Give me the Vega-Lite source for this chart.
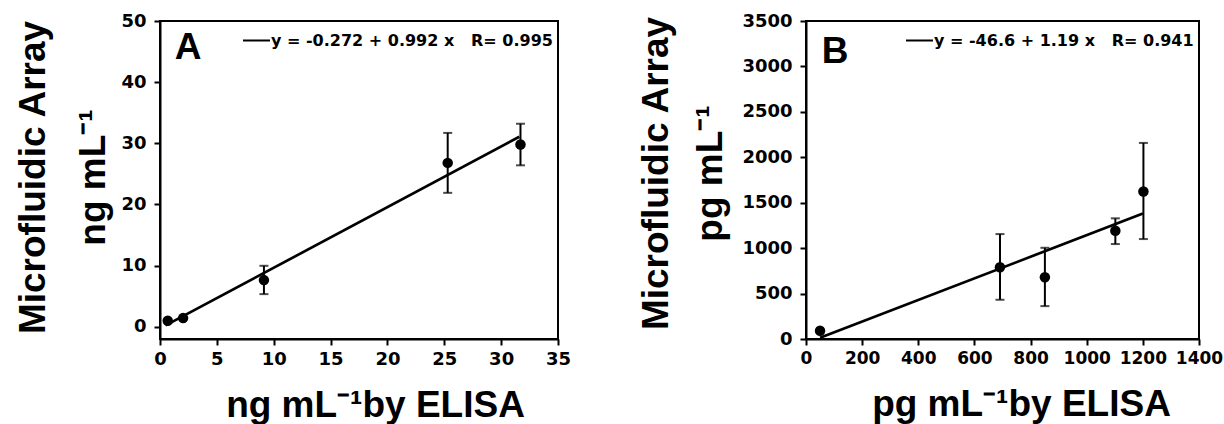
{
  "$schema": "https://vega.github.io/schema/vega-lite/v6.json",
  "background": "white",
  "padding": {"left": 13, "top": 11, "right": 0, "bottom": 0},
  "spacing": 248,
  "bounds": "flush",
  "datasets": {
    "a": [
      {"x": 0.68, "y": 0.98, "lo": null, "hi": null},
      {"x": 2.03, "y": 1.42, "lo": null, "hi": null},
      {"x": 9.14, "y": 7.63, "lo": 5.34, "hi": 9.97},
      {"x": 25.3, "y": 26.8, "lo": 21.9, "hi": 31.7},
      {"x": 31.7, "y": 29.8, "lo": 26.4, "hi": 33.2}
    ],
    "afit": [
      {"x": 0.5, "y": 0.224, "fit": "y = -0.272 + 0.992 x\u00a0\u00a0 R= 0.995"},
      {"x": 31.6, "y": 31.07, "fit": "y = -0.272 + 0.992 x\u00a0\u00a0 R= 0.995"}
    ],
    "alabel": [{"label": "A"}],
    "b": [
      {"x": 50, "y": 91, "lo": null, "hi": null},
      {"x": 691, "y": 790, "lo": 432, "hi": 1155},
      {"x": 851, "y": 680, "lo": 362, "hi": 1004},
      {"x": 1102, "y": 1191, "lo": 1045, "hi": 1328},
      {"x": 1202, "y": 1623, "lo": 1100, "hi": 2158}
    ],
    "bfit": [
      {"x": 50, "y": 12.9, "fit": "y = -46.6 + 1.19 x\u00a0\u00a0 R= 0.941"},
      {"x": 1200, "y": 1381.4, "fit": "y = -46.6 + 1.19 x\u00a0\u00a0 R= 0.941"}
    ],
    "blabel": [{"label": "B"}]
  },
  "resolve": {"scale": {"color": "independent"}, "legend": {"color": "independent"}},
  "hconcat": [
    {
      "width": 398,
      "height": 318,
      "encoding": {
        "x": {"type": "quantitative", "scale": {"domain": [0, 35], "nice": false, "zero": false},
              "axis": {"values": [0, 5, 10, 15, 20, 25, 30, 35], "title": "ng mL⁻¹by ELISA", "titleX": 215, "titlePadding": 19, "labelPadding": 5}},
        "y": {"type": "quantitative", "scale": {"domain": [-2, 50], "nice": false, "zero": false},
              "axis": {"values": [0, 10, 20, 30, 40, 50], "title": ["Microfluidic Array", "\u00a0\u00a0\u00a0\u00a0ng mL⁻¹"], "titleLineHeight": 60, "titlePadding": 8, "titleY": 156, "labelPadding": 8}}
      },
      "layer": [
        {
          "data": {"name": "afit"},
          "mark": {"type": "line", "strokeWidth": 2.7},
          "encoding": {
            "x": {"field": "x"},
            "y": {"field": "y"},
            "color": {"field": "fit", "type": "nominal", "scale": {"range": ["black"]},
                      "legend": {"title": null, "orient": "top-right", "offset": 5, "padding": 0, "symbolType": "stroke", "symbolSize": 729, "symbolStrokeWidth": 2, "labelFont": "DejaVu Sans", "labelFontWeight": "bold", "labelFontSize": 16, "labelColor": "black", "labelOffset": 0, "labelLimit": 500}}
          }
        },
        {
          "data": {"name": "a"},
          "transform": [{"filter": "datum.hi != null"}],
          "mark": {"type": "errorbar", "color": "black", "thickness": 2, "ticks": {"size": 9, "thickness": 2, "color": "black"}},
          "encoding": {
            "x": {"field": "x"},
            "y": {"field": "hi"},
            "y2": {"field": "lo"}
          }
        },
        {
          "data": {"name": "a"},
          "mark": {"type": "circle", "size": 110, "opacity": 1, "color": "black"},
          "encoding": {
            "x": {"field": "x"},
            "y": {"field": "y"}
          }
        },
        {
          "data": {"name": "alabel"},
          "mark": {"type": "text", "font": "Liberation Sans", "fontSize": 37, "fontWeight": "bold", "align": "left", "baseline": "alphabetic", "color": "black"},
          "encoding": {
            "text": {"field": "label"},
            "x": {"datum": 1.3},
            "y": {"datum": 43.8}
          }
        }
      ]
    },
    {
      "width": 393,
      "height": 318,
      "encoding": {
        "x": {"type": "quantitative", "scale": {"domain": [0, 1400], "nice": false, "zero": false},
              "axis": {"values": [0, 200, 400, 600, 800, 1000, 1200, 1400], "title": "pg mL⁻¹by ELISA", "titleX": 215, "titlePadding": 20, "labelPadding": 5, "labelFontSize": 17}},
        "y": {"type": "quantitative", "scale": {"domain": [0, 3500], "nice": false, "zero": false},
              "axis": {"values": [0, 500, 1000, 1500, 2000, 2500, 3000, 3500], "title": ["Microfluidic Array", "\u00a0pg mL⁻¹"], "titleLineHeight": 54, "titlePadding": 12, "titleY": 152, "labelPadding": 8}}
      },
      "layer": [
        {
          "data": {"name": "bfit"},
          "mark": {"type": "line", "strokeWidth": 2.7},
          "encoding": {
            "x": {"field": "x"},
            "y": {"field": "y"},
            "color": {"field": "fit", "type": "nominal", "scale": {"range": ["black"]},
                      "legend": {"title": null, "orient": "top-right", "offset": 5, "padding": 0, "symbolType": "stroke", "symbolSize": 729, "symbolStrokeWidth": 2, "labelFont": "DejaVu Sans", "labelFontWeight": "bold", "labelFontSize": 16, "labelColor": "black", "labelOffset": 0, "labelLimit": 500}}
          }
        },
        {
          "data": {"name": "b"},
          "transform": [{"filter": "datum.hi != null"}],
          "mark": {"type": "errorbar", "color": "black", "thickness": 2, "ticks": {"size": 9, "thickness": 2, "color": "black"}},
          "encoding": {
            "x": {"field": "x"},
            "y": {"field": "hi"},
            "y2": {"field": "lo"}
          }
        },
        {
          "data": {"name": "b"},
          "mark": {"type": "circle", "size": 110, "opacity": 1, "color": "black"},
          "encoding": {
            "x": {"field": "x"},
            "y": {"field": "y"}
          }
        },
        {
          "data": {"name": "blabel"},
          "mark": {"type": "text", "font": "Liberation Sans", "fontSize": 37, "fontWeight": "bold", "align": "left", "baseline": "alphabetic", "color": "black"},
          "encoding": {
            "text": {"field": "label"},
            "x": {"datum": 56},
            "y": {"datum": 3040}
          }
        }
      ]
    }
  ],
  "config": {
    "view": {"stroke": "black", "strokeWidth": 2},
    "axis": {
      "grid": false,
      "domainColor": "black", "domainWidth": 2,
      "tickColor": "black", "tickWidth": 2, "tickSize": 6,
      "labelFont": "DejaVu Sans", "labelFontWeight": "bold", "labelFontSize": 18, "labelColor": "black",
      "labelOverlap": false, "labelBound": false, "labelFlush": false, "format": "d",
      "titleFont": "Liberation Sans", "titleFontWeight": "bold", "titleFontSize": 37, "titleColor": "black"
    }
  }
}
